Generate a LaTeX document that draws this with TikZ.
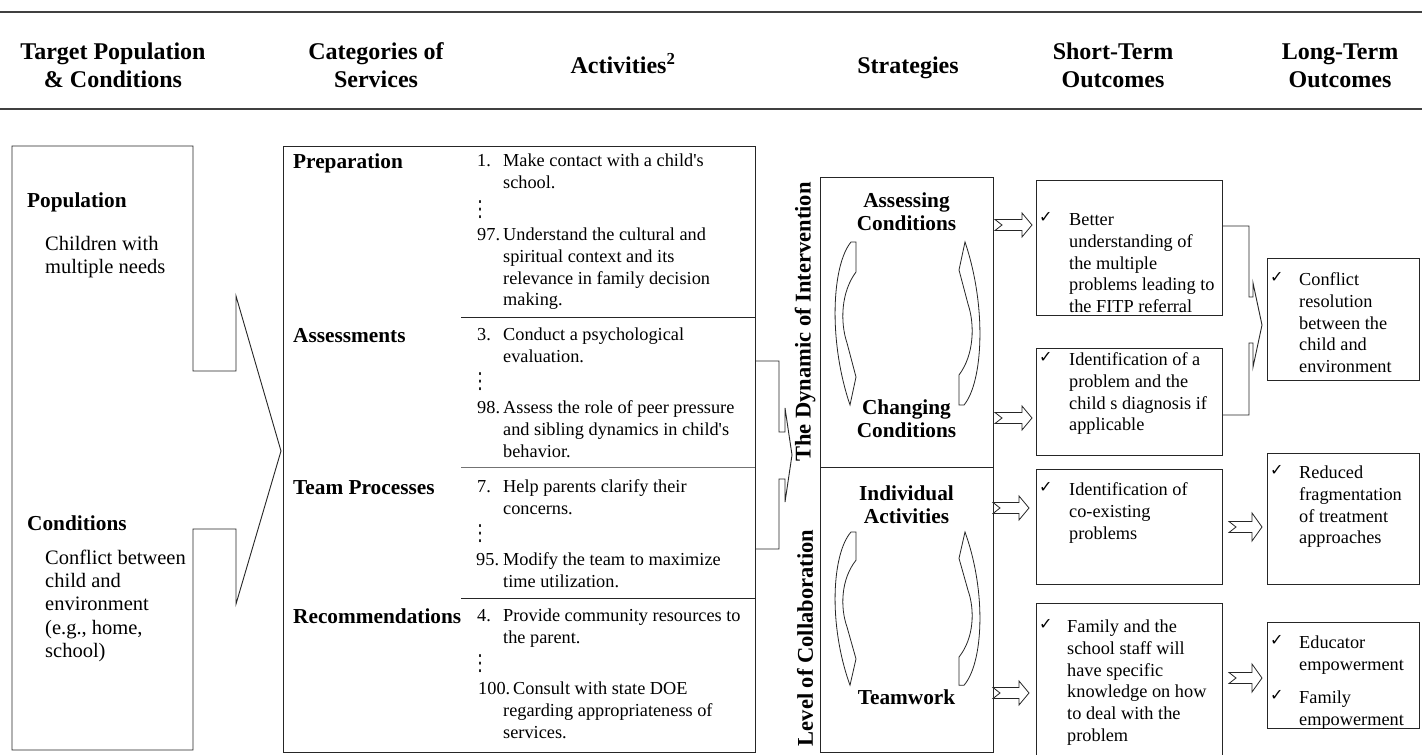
\documentclass[tikz,border=0pt]{standalone}
\usepackage{fontspec}
\setmainfont{Liberation Serif}
\newfontfamily\dejavu{DejaVu Sans}
\usetikzlibrary{calc}
\tikzset{
 box/.style={draw=black!85, line width=0.9pt, inner sep=0pt, anchor=north west},
 txt/.style={font=\fontsize{18.3}{21.7}\selectfont, align=left, inner sep=0pt, anchor=north west, yshift=9.7pt},
 btitle/.style={font=\bfseries\fontsize{21.3}{23}\selectfont, align=left, inner sep=0pt, anchor=north west, yshift=9.1pt},
 ltxt/.style={font=\fontsize{20.5}{23.2}\selectfont, align=left, inner sep=0pt, anchor=north west, yshift=10pt},
 stitle/.style={font=\bfseries\fontsize{21.3}{23}\selectfont, align=center, inner sep=0pt, anchor=north, yshift=9.1pt},
 headtxt/.style={font=\bfseries\fontsize{24}{28}\selectfont, align=center, inner sep=0pt},
 vlab/.style={font=\bfseries\fontsize{22.5}{27}\selectfont, rotate=90, inner sep=0pt},
 chk/.style={font=\dejavu\fontsize{16}{16}\selectfont, inner sep=0pt, anchor=west},
 vdotsn/.style={font=\dejavu\fontsize{17}{17}\selectfont, inner sep=0pt, anchor=center},
 outline/.style={draw=black!85, line width=0.9pt, line join=miter},
 sepline/.style={draw=black!85, line width=0.9pt},
 rule/.style={draw=black!75, line width=1.6pt},
 arr/.style={draw=black!85, line width=0.8pt, fill=white, line join=miter},
}
\newcommand\vdts{\scalebox{1}[1.3]{⋮}}
\newcommand\curvpair[2]{%
 \begin{scope}[shift={(0,#1)}, yscale=#2]
  \draw[arr] (851,0) .. controls (832,23) and (828,98) .. (850,163) -- (856,135) -- (847,101) .. controls (840,80) and (841,50) .. (856,30) -- (856,0) -- cycle;
  \draw[arr] (964,163) .. controls (983,140) and (987,65) .. (965,0) -- (959,28) -- (968,62) .. controls (975,83) and (974,113) .. (959,133) -- (959,163) -- cycle;
 \end{scope}}
\newcommand\barrow[4]{%
 \draw[arr] (#1,#3-5.5) -- (#2-10,#3-5.5) -- (#2-10,#3-#4) -- (#2,#3) -- (#2-10,#3+#4) -- (#2-10,#3+5.5) -- (#1,#3+5.5) -- (#1+7,#3) -- cycle;}
\begin{document}
\begin{tikzpicture}[x=1pt,y=-1pt]
\useasboundingbox (0,0) rectangle (1422,755);
\clip (0,0) rectangle (1422,755);
\fill[white] (0,0) rectangle (1422,755);

% header
\draw[rule] (0,12) -- (1422,12);
\draw[rule] (0,109) -- (1422,109);
\node[headtxt] (h1) at (113,68) {\strut Target Population\\\strut \& Conditions};
\node[headtxt] (h2) at (376,68) {\strut Categories of\\\strut Services};
\node[headtxt] (h3) at (623,68) {\strut Activities\textsuperscript{2}};
\node[headtxt] (h4) at (908,68) {\strut Strategies};
\node[headtxt] (h5) at (1113,68) {\strut Short-Term\\\strut Outcomes};
\node[headtxt] (h6) at (1340,68) {\strut Long-Term\\\strut Outcomes};

% target population box with arrow
\draw[outline] (12,146) -- (193,146) -- (193,371) -- (236,371) -- (236,296) -- (281,451) -- (236,604) -- (236,529) -- (193,529) -- (193,750) -- (12,750) -- cycle;
\node[btitle] (pop) at (27,200) {\strut Population};
\node[ltxt] (popt) at (45,244) {\strut Children with\\multiple needs};
\node[btitle] (cond) at (27,523) {\strut Conditions};
\node[ltxt] (condt) at (45,558) {\strut Conflict between\\child and\\environment\\(e.g., home,\\school)};

% activities box
\node[box, minimum width=472pt, minimum height=606pt] (act) at (283,146) {};
\draw[sepline] (461,317) -- (755,317);
\draw[sepline, draw=black!55] (461,467) -- (755,467);
\draw[sepline] (461,598) -- (755,598);

\node[btitle] (cat1) at (293,161) {\strut Preparation};
\node[txt] (n1) at (477,161) {\strut 1.};
\node[txt] (a1) at (503,161) {\strut Make contact with a child\textquotesingle s\\school.};
\node[vdotsn] (d1) at (480,210) {\vdts};
\node[txt] (n97) at (477,235) {\strut 97.};
\node[txt] (a97) at (503,235) {\strut Understand the cultural and\\spiritual context and its\\relevance in family decision\\making.};

\node[btitle] (cat2) at (293,335) {\strut Assessments};
\node[txt] (n3) at (477,335) {\strut 3.};
\node[txt] (a3) at (503,335) {\strut Conduct a psychological\\evaluation.};
\node[vdotsn] (d2) at (480,382) {\vdts};
\node[txt] (n98) at (477,408) {\strut 98.};
\node[txt] (a98) at (503,408) {\strut Assess the role of peer pressure\\and sibling dynamics in child\textquotesingle s\\behavior.};

\node[btitle] (cat3) at (293,487) {\strut Team Processes};
\node[txt] (n7) at (477,487) {\strut 7.};
\node[txt] (a7) at (503,487) {\strut Help parents clarify their\\concerns.};
\node[vdotsn] (d3) at (480,534) {\vdts};
\node[txt] (n95) at (476,560) {\strut 95.};
\node[txt] (a95) at (503,560) {\strut Modify the team to maximize\\time utilization.};

\node[btitle] (cat4) at (293,616) {\strut Recommendations};
\node[txt] (n4) at (477,616) {\strut 4.};
\node[txt] (a4) at (503,616) {\strut Provide community resources to\\the parent.};
\node[vdotsn] (d4) at (480,664) {\vdts};
\node[txt] (n100) at (478,689) {\strut 100.};
\node[txt] (a100) at (513,689) {\strut Consult with state DOE};
\node[txt] (a100b) at (503,711) {\strut regarding appropriateness of\\services.};

% bracket arrow activities -> strategies
\draw[outline] (act.east |- 0,361) -- (779,361) -- (779,432) -- (785,432) -- (785,408) -- (792,455) -- (785,502) -- (785,479) -- (779,479) -- (779,549) -- (act.east |- 0,549);

% strategies
\node[box, minimum width=173pt, minimum height=290pt] (sg1) at (820,177) {};
\node[box, minimum width=173pt, minimum height=285pt] (sg2) at (820,467) {};
\node[vlab] (dyn) at (805,322) {The Dynamic of Intervention};
\node[vlab] (loc) at (805,638) {Level of Collaboration};
\node[stitle] (ac) at (906.5,200) {\strut Assessing\\Conditions};
\node[stitle] (cc) at (906.5,407) {\strut Changing\\Conditions};
\node[stitle] (ia) at (906.5,493) {\strut Individual\\Activities};
\node[stitle] (tw) at (906.5,697) {\strut Teamwork};
\curvpair{242}{1}
\curvpair{532}{0.94}

% block arrows strategies -> short-term
\barrow{995}{1032}{225}{12}
\barrow{995}{1032}{418}{12}
\barrow{993}{1029}{508}{12}
\barrow{993}{1029}{693}{12}

% short-term outcomes
\node[box, minimum width=186pt, minimum height=135pt] (st1) at (1036,180) {};
\node[box, minimum width=186pt, minimum height=107pt] (st2) at (1036,348) {};
\node[box, minimum width=186pt, minimum height=115pt] (st3) at (1036,469) {};
\node[box, minimum width=186pt, minimum height=170pt] (st4) at (1036,603) {};
\node[chk] (c1) at (1039,217) {✓};
\node[txt] (t1) at (1069,220) {\strut Better\\understanding of\\the multiple\\problems leading to\\the FITP referral};
\node[chk] (c2) at (1039,357) {✓};
\node[txt] (t2) at (1069,360) {\strut Identification of a\\problem and the\\child s diagnosis if\\applicable};
\node[chk] (c3) at (1039,487) {✓};
\node[txt] (t3) at (1069,490) {\strut Identification of\\co-existing\\problems};
\node[chk] (c4) at (1039,624) {✓};
\node[txt] (t4) at (1067,627) {\strut Family and the\\school staff will\\have specific\\knowledge on how\\to deal with the\\problem};

% bracket short-term -> long-term
\draw[outline] (st1.east |- 0,226) -- (1249,226) -- (1249,297) -- (1253,297) -- (1253,283) -- (1262,325) -- (1253,367) -- (1253,343) -- (1249,343) -- (1249,415) -- (st2.east |- 0,415);

\barrow{1229}{1262}{527}{14}
\barrow{1229}{1262}{678}{14}

% long-term outcomes
\node[box, minimum width=152pt, minimum height=122pt] (lt1) at (1267,258) {};
\node[box, minimum width=152pt, minimum height=131pt] (lt2) at (1267,453) {};
\node[box, minimum width=152pt, minimum height=106pt] (lt3) at (1267,622) {};
\node[chk] (c5) at (1270,277) {✓};
\node[txt] (t5) at (1299,280) {\strut Conflict\\resolution\\between the\\child and\\environment};
\node[chk] (c6) at (1270,470) {✓};
\node[txt] (t6) at (1299,473) {\strut Reduced\\fragmentation\\of treatment\\approaches};
\node[chk] (c7) at (1270,640) {✓};
\node[txt] (t7) at (1299,643) {\strut Educator\\empowerment};
\node[chk] (c8) at (1270,695) {✓};
\node[txt] (t8) at (1299,698) {\strut Family\\empowerment};
\end{tikzpicture}
\end{document}
